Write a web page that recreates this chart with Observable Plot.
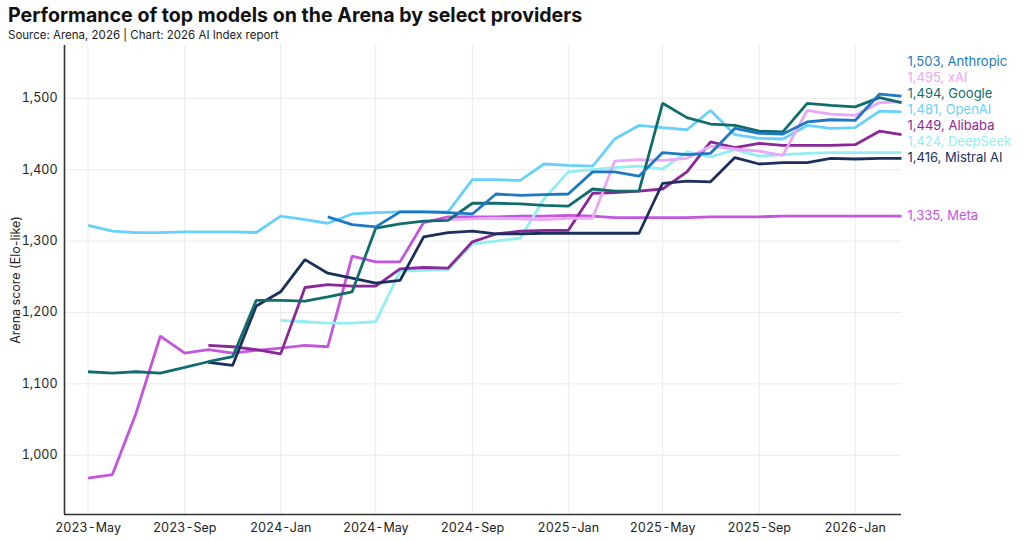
<!DOCTYPE html>
<html><head><meta charset="utf-8">
<script src="https://cdn.jsdelivr.net/npm/d3@7"></script>
<script src="https://cdn.jsdelivr.net/npm/@observablehq/plot@0.6"></script>
<style>
body{margin:0;background:#fff;font-family:Inter,"Noto Sans",sans-serif;}
#wrap{width:1023px;}
.title{font-weight:700;font-size:19.6px;color:#111;padding:5px 0 0 8px;line-height:21px;height:21px;}
.sub{font-size:11.5px;color:#222;padding:2px 0 0 8px;line-height:14px;height:14px;}
</style></head><body>
<div id="wrap">
<div class="title">Performance of top models on the Arena by select providers</div>
<div class="sub">Source: Arena, 2026 | Chart: 2026 AI Index report</div>
<div id="chart"></div>
</div>
<script>
const months = ["2023-05","2023-06","2023-07","2023-08","2023-09","2023-10","2023-11","2023-12",
"2024-01","2024-02","2024-03","2024-04","2024-05","2024-06","2024-07","2024-08","2024-09","2024-10","2024-11","2024-12",
"2025-01","2025-02","2025-03","2025-04","2025-05","2025-06","2025-07","2025-08","2025-09","2025-10","2025-11","2025-12",
"2026-01","2026-02","2026-03"];
const providers = ["Meta","DeepSeek","Alibaba","Mistral AI","OpenAI","xAI","Google","Anthropic"];
const colors    = ["#c455de","#92eef2","#8a2898","#1b2f5f","#66d1fb","#eaa6f8","#0f6e6c","#1f78c2"];
const _ = null;
const meta      = [968,973,1059,1167,1143,1148,1143,1147,1150,1154,1152,1279,1271,1271,1326,1334,1334,1334,1335,1335,1336,1335,1333,1333,1333,1333,1334,1334,1334,1335,1335,1335,1335,1335,1335];
const deepseek  = [_,_,_,_,_,_,_,_,1189,1187,1185,1185,1187,1258,1259,1260,1296,1300,1304,1359,1397,1400,1403,1405,1401,1425,1418,1428,1419,1421,1423,1424,1424,1424,1424];
const alibaba   = [_,_,_,_,_,1154,1152,1148,1142,1235,1239,1237,1237,1261,1263,1262,1299,1310,1314,1315,1315,1367,1368,1370,1373,1397,1439,1431,1437,1434,1434,1434,1435,1454,1449];
const mistral   = [_,_,_,_,_,1130,1126,1209,1229,1274,1255,1248,1241,1245,1306,1312,1314,1310,1310,1311,1311,1311,1311,1311,1381,1384,1383,1417,1408,1410,1410,1416,1415,1416,1416];
const openai    = [1322,1314,1312,1312,1313,1313,1313,1312,1335,1330,1325,1338,1340,1341,1341,1341,1386,1386,1385,1408,1406,1405,1443,1462,1459,1456,1483,1449,1444,1443,1462,1458,1459,1482,1481];
const xai       = [_,_,_,_,_,_,_,_,_,_,_,_,_,_,_,1330,1331,1332,1331,1330,1332,1332,1412,1414,1413,1416,1433,1429,1426,1420,1483,1478,1476,1494,1495];
const google    = [1117,1115,1117,1115,1123,1131,1138,1217,1217,1216,1222,1229,1318,1324,1328,1329,1353,1353,1352,1350,1349,1373,1370,1370,1493,1473,1464,1462,1454,1453,1493,1490,1488,1501,1494];
const anthropic = [_,_,_,_,_,_,_,_,_,_,1334,1323,1320,1341,1341,1340,1338,1366,1364,1365,1366,1397,1397,1391,1424,1421,1423,1458,1451,1450,1467,1470,1469,1506,1503];
const seriesValues = [meta,deepseek,alibaba,mistral,openai,xai,google,anthropic];
const xTicks = ["2023-05","2023-09","2024-01","2024-05","2024-09","2025-01","2025-05","2025-09","2026-01"];
const yTicks = [1000,1100,1200,1300,1400,1500];

const parse = d3.utcParse("%Y-%m");
const dates = months.map(parse);
const rows = [];
providers.forEach((p,i)=>{
  seriesValues[i].forEach((v,j)=>{ if(v!=null) rows.push({provider:p,date:dates[j],value:v}); });
});

const width = 1023, height = 498;
const mTop = 3, mBottom = 26, mLeft = 64, mRight = 122;
const yDomain = [917, 1574];
const xDomain = [d3.utcMonth.offset(dates[0],-1), dates[dates.length-1]];

// end labels with bottom-up dodge (16px spacing expressed in data units)
const ppu = (height - mTop - mBottom) / (yDomain[1]-yDomain[0]);
const gap = 16 / ppu;
const ends = providers.map((p,i)=>{
  const vals = seriesValues[i];
  return {provider:p, date:dates[vals.length-1], value:vals[vals.length-1]};
}).sort((a,b)=>a.value-b.value);
let prev = -Infinity;
ends.forEach(e=>{ e.ly = Math.max(e.value, prev + gap); prev = e.ly; });

const fmt = d3.format(",");
const chart = Plot.plot({
  width, height,
  marginTop:mTop, marginBottom:mBottom, marginLeft:mLeft, marginRight:mRight,
  style:{fontFamily:'Inter,"Noto Sans",sans-serif', fontSize:"12px", color:"#222", background:"#fff"},
  x:{type:"utc", domain:xDomain},
  y:{domain:yDomain},
  color:{domain:providers, range:colors},
  marks:[
    Plot.gridX(xTicks.map(parse), {stroke:"#ebebeb", strokeOpacity:1}),
    Plot.gridY(yTicks, {stroke:"#ebebeb", strokeOpacity:1}),
    Plot.axisX(xTicks.map(parse), {tickSize:0, tickPadding:9, tickFormat:d3.utcFormat("%Y-%b"), label:null, fontSize:12.5}),
    Plot.axisY(yTicks, {tickSize:0, tickPadding:7, tickFormat:fmt, label:"Arena score (Elo-like)", labelAnchor:"center", labelArrow:"none", labelOffset:53, fontSize:12.5}),
    Plot.line(rows, {x:"date", y:"value", z:"provider", stroke:"provider", strokeWidth:2.8, strokeLinejoin:"miter", strokeLinecap:"butt"}),
    Plot.ruleX([xDomain[0]], {stroke:"#333", strokeWidth:1.6}),
    Plot.ruleY([yDomain[0]], {stroke:"#333", strokeWidth:1.6}),
    Plot.text(ends, {x:"date", y:"ly", text:d=>`${fmt(d.value)}, ${d.provider}`, fill:"provider", dx:6, textAnchor:"start", fontSize:13})
  ]
});
document.getElementById("chart").appendChild(chart);
</script>
</body></html>
